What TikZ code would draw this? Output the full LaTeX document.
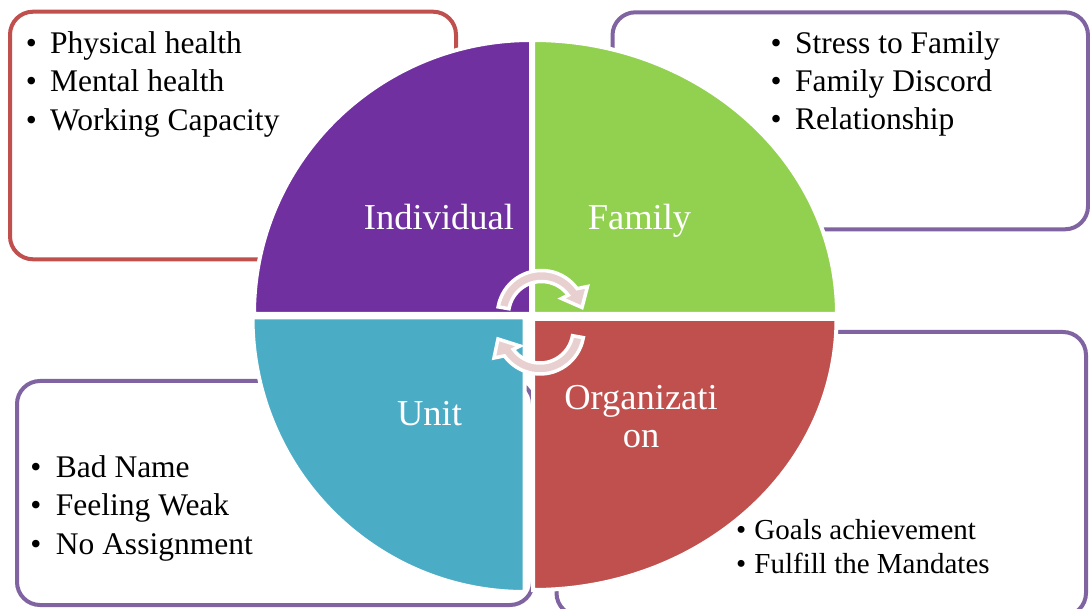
\documentclass[tikz,border=0pt]{standalone}
\usepackage{fontspec}
\setmainfont{Liberation Serif}
\usetikzlibrary{calc}
\definecolor{qpurple}{HTML}{7030A0}
\definecolor{qgreen}{HTML}{92D050}
\definecolor{qblue}{HTML}{4BACC6}
\definecolor{qred}{HTML}{C0504D}
\definecolor{boxred}{HTML}{C0504D}
\definecolor{boxpurple}{HTML}{8064A2}
\definecolor{arrowpink}{HTML}{E8D0D0}
\begin{document}
\begin{tikzpicture}[x=1pt,y=1pt,
  listbox/.style={line width=4pt, rounded corners=23pt},
  quad/.style={draw=white, line width=4pt},
  item/.style={anchor=base west, inner sep=0pt, font=\fontsize{31.5}{37}\selectfont},
  itemsm/.style={anchor=base west, inner sep=0pt, font=\fontsize{29}{34}\selectfont},
  qlabel/.style={anchor=base, inner sep=0pt, text=white, font=\fontsize{36.5}{37}\selectfont},
  cyc/.style={draw=white, line width=3.5pt, fill=arrowpink, line join=miter}]
\useasboundingbox (0,0) rectangle (1090,-609);
\begin{scope}
\clip (0,0) rectangle (1090,-609);
\fill[white] (0,0) rectangle (1090,-609);
% text boxes
\draw[listbox, draw=boxred] (10,-11.7) rectangle (456,-259.3);
\draw[listbox, draw=boxpurple] (612.5,-12.3) rectangle (1088,-229.3);
\draw[listbox, draw=boxpurple] (17,-381) rectangle (533,-605);
\draw[listbox, draw=boxpurple] (556.5,-332) rectangle (1086,-616);
% quadrants
\filldraw[quad, fill=qpurple] (531,-314) -- (254,-314) arc[start angle=180, end angle=90, x radius=277, y radius=274] -- cycle;
\filldraw[quad, fill=qgreen] (533,-314) -- (533,-40) arc[start angle=90, end angle=0, x radius=304, y radius=274] -- cycle;
\filldraw[quad, fill=qblue] (524.5,-317.5) -- (252.5,-317.5) arc[start angle=180, end angle=270, x radius=272, y radius=274.5] -- cycle;
\filldraw[quad, fill=qred] (533,-319) -- (836.5,-319) arc[start angle=0, end angle=-90, x radius=303.5, y radius=271] -- cycle;
% cycle arrows
\coordinate (ct) at (541.5,-314.5);
\coordinate (cb) at (540,-330);
\draw[cyc] ($(ct)+(170:44)$) arc[start angle=170, end angle=36, radius=44]
  -- ($(ct)+(46,28)$) -- ($(ct)+(40.5,7)$) -- ($(ct)+(20,16)$)
  -- ($(ct)+(36:33)$) arc[start angle=36, end angle=170, radius=33] -- cycle;
\draw[cyc] ($(cb)+(350:44)$) arc[start angle=350, end angle=216, radius=44]
  -- ($(cb)+(-46,-28)$) -- ($(cb)+(-42,-9)$) -- ($(cb)+(-20,-16)$)
  -- ($(cb)+(216:33)$) arc[start angle=216, end angle=350, radius=33] -- cycle;
\end{scope}
% quadrant labels
\node[qlabel] (lind) at (439,-230) {Individual};
\node[qlabel] (lfam) at (639.5,-230) {Family};
\node[qlabel] (lunit) at (429.5,-426) {Unit};
\node[qlabel] (lorga) at (641,-410) {Organizati};
\node[qlabel] (lorgb) at (641,-447) {on};
% box 1
\node[item] (a1) at (25.6,-53.3) {\makebox[24.4pt][l]{\textbullet}Physical health};
\node[item] (a2) at (25.6,-91.7) {\makebox[24.4pt][l]{\textbullet}Mental health};
\node[item] (a3) at (25.6,-130.5) {\makebox[24.4pt][l]{\textbullet}Working Capacity};
% box 2
\node[item] (b1) at (770.3,-53.3) {\makebox[24.7pt][l]{\textbullet}Stress to Family};
\node[item] (b2) at (770.3,-91.7) {\makebox[24.7pt][l]{\textbullet}Family Discord};
\node[item] (b3) at (770.3,-130) {\makebox[24.7pt][l]{\textbullet}Relationship};
% box 3
\node[item] (c1) at (30.3,-477) {\makebox[25.4pt][l]{\textbullet}Bad Name};
\node[item] (c2) at (30.3,-515.8) {\makebox[25.4pt][l]{\textbullet}Feeling Weak};
\node[item] (c3) at (30.3,-554.3) {\makebox[25.4pt][l]{\textbullet}No Assignment};
% box 4
\node[itemsm] (d1) at (735.9,-539.3) {\makebox[18.4pt][l]{\textbullet}Goals achievement};
\node[itemsm] (d2) at (735.9,-573.3) {\makebox[18.4pt][l]{\textbullet}Fulfill the Mandates};
\end{tikzpicture}
\end{document}
